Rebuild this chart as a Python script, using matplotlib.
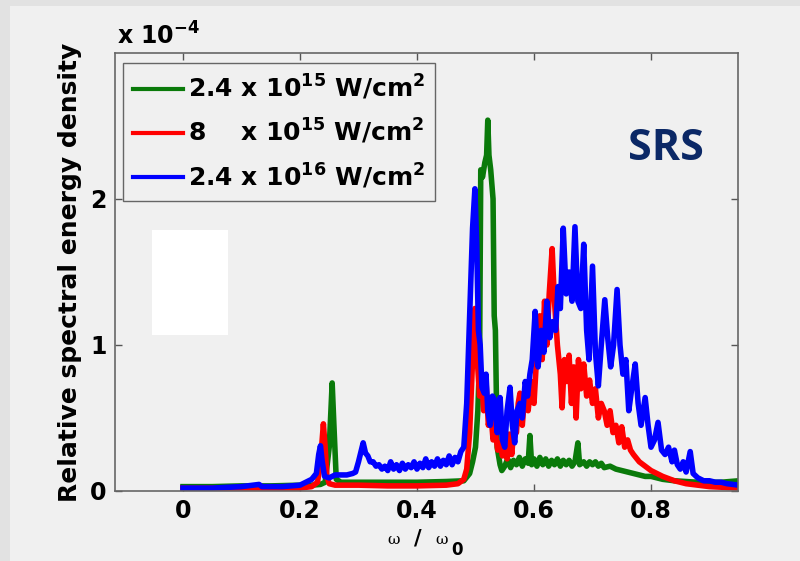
import numpy as np
import matplotlib
matplotlib.use("Agg")
import matplotlib.pyplot as plt
from matplotlib.patches import Rectangle

# spectral energy density, in units of 1e-4, vs omega/omega_0
green_x = [0.00, 0.05, 0.10, 0.15, 0.20, 0.22, 0.235, 0.243, 0.250, 0.255, 0.258, 0.262,
           0.27, 0.30, 0.35, 0.40, 0.45, 0.48, 0.49, 0.495, 0.500, 0.504, 0.507, 0.509,
           0.512, 0.516, 0.519, 0.521, 0.523, 0.526, 0.530, 0.532, 0.534, 0.537, 0.542,
           0.545, 0.550, 0.555, 0.560, 0.565, 0.570, 0.575, 0.580, 0.585, 0.590, 0.593,
           0.596, 0.600, 0.605, 0.610, 0.615, 0.620, 0.625, 0.630, 0.635, 0.640, 0.645,
           0.650, 0.655, 0.660, 0.665, 0.670, 0.675, 0.678, 0.685, 0.690, 0.695, 0.700,
           0.705, 0.710, 0.715, 0.720, 0.730, 0.740, 0.750, 0.760, 0.770, 0.780, 0.790,
           0.800, 0.820, 0.840, 0.860, 0.880, 0.900, 0.920, 0.950]
green_y = [0.03, 0.03, 0.035, 0.035, 0.04, 0.04, 0.045, 0.06, 0.30, 0.74, 0.45, 0.08,
           0.06, 0.06, 0.06, 0.06, 0.065, 0.07, 0.12, 0.2, 0.3, 0.55, 0.9, 2.2,
           2.15, 2.25, 2.3, 2.54, 2.3, 2.2, 2.0, 1.2, 1.1, 0.3, 0.18,
           0.14, 0.17, 0.22, 0.16, 0.21, 0.18, 0.23, 0.17, 0.22, 0.19, 0.38,
           0.18, 0.22, 0.17, 0.23, 0.18, 0.22, 0.17, 0.21, 0.18, 0.22, 0.17,
           0.21, 0.18, 0.21, 0.17, 0.20, 0.33, 0.18, 0.20, 0.17, 0.20, 0.18,
           0.20, 0.17, 0.19, 0.16, 0.17, 0.15, 0.14, 0.13, 0.12, 0.11, 0.10,
           0.10, 0.08, 0.07, 0.065, 0.06, 0.06, 0.06, 0.07]

red_x = [0.00, 0.10, 0.20, 0.22, 0.23, 0.235, 0.240, 0.243, 0.246, 0.250, 0.26, 0.30,
         0.35, 0.40, 0.45, 0.47, 0.48, 0.485, 0.490, 0.495, 0.499, 0.503, 0.507, 0.510,
         0.514, 0.518, 0.522, 0.526, 0.530, 0.534, 0.538, 0.542, 0.546, 0.550, 0.554,
         0.558, 0.562, 0.566, 0.570, 0.573, 0.576, 0.580, 0.585, 0.590, 0.595, 0.600,
         0.605, 0.610, 0.614, 0.618, 0.622, 0.626, 0.631, 0.635, 0.640, 0.645, 0.648,
         0.652, 0.656, 0.660, 0.664, 0.668, 0.672, 0.676, 0.680, 0.685, 0.690, 0.695,
         0.700, 0.705, 0.710, 0.715, 0.720, 0.725, 0.730, 0.735, 0.740, 0.745, 0.750,
         0.755, 0.760, 0.765, 0.770, 0.780, 0.790, 0.800, 0.810, 0.820, 0.840, 0.860,
         0.880, 0.900, 0.950]
red_y = [0.02, 0.02, 0.02, 0.03, 0.06, 0.2, 0.46, 0.3, 0.1, 0.05, 0.04, 0.04,
         0.035, 0.035, 0.04, 0.05, 0.08, 0.15, 0.4, 0.9, 1.25, 0.9, 0.65, 0.8,
         0.55, 0.75, 0.45, 0.55, 0.35, 0.4, 0.28, 0.33, 0.24, 0.3, 0.22,
         0.39, 0.25, 0.45, 0.4, 0.6, 0.67, 0.45, 0.7, 0.55, 0.75, 0.6,
         0.95, 1.2, 0.9, 1.3, 1.0, 1.35, 1.66, 1.3, 1.0, 0.8, 0.57,
         0.9, 0.75, 0.93, 0.6, 0.85, 0.5, 0.9, 0.7, 0.87, 0.65, 0.76,
         0.6, 0.7, 0.5, 0.6, 0.55, 0.45, 0.55, 0.4, 0.45, 0.33, 0.44,
         0.3, 0.35, 0.28, 0.25, 0.2, 0.17, 0.14, 0.12, 0.1, 0.07, 0.05,
         0.04, 0.03, 0.02]

blue_x = [0.00, 0.05, 0.10, 0.13, 0.135, 0.17, 0.20, 0.21, 0.22, 0.228, 0.232, 0.235,
          0.238, 0.242, 0.25, 0.26, 0.27, 0.28, 0.29, 0.295, 0.300, 0.305, 0.308, 0.312,
          0.316, 0.320, 0.325, 0.330, 0.335, 0.340, 0.345, 0.350, 0.355, 0.360, 0.365,
          0.370, 0.375, 0.380, 0.385, 0.390, 0.395, 0.400, 0.405, 0.410, 0.415, 0.420,
          0.425, 0.430, 0.435, 0.440, 0.445, 0.450, 0.455, 0.460, 0.465, 0.470, 0.475,
          0.480, 0.485, 0.490, 0.495, 0.499, 0.502, 0.505, 0.508, 0.511, 0.515, 0.518,
          0.521, 0.525, 0.529, 0.533, 0.537, 0.542, 0.546, 0.550, 0.554, 0.559, 0.563,
          0.567, 0.571, 0.576, 0.580, 0.585, 0.589, 0.593, 0.597, 0.602, 0.607, 0.612,
          0.617, 0.622, 0.627, 0.632, 0.637, 0.641, 0.645, 0.650, 0.655, 0.660, 0.665,
          0.670, 0.675, 0.680, 0.685, 0.690, 0.694, 0.700, 0.705, 0.710, 0.715, 0.721,
          0.726, 0.731, 0.736, 0.742, 0.747, 0.752, 0.757, 0.762, 0.767, 0.773, 0.778,
          0.783, 0.790, 0.795, 0.800, 0.806, 0.812, 0.818, 0.824, 0.830, 0.836, 0.840,
          0.845, 0.850, 0.855, 0.860, 0.867, 0.872, 0.880, 0.890, 0.900, 0.910, 0.920,
          0.930, 0.950]
blue_y = [0.02, 0.02, 0.03, 0.045, 0.03, 0.03, 0.04, 0.06, 0.08, 0.12, 0.25, 0.31,
          0.2, 0.1, 0.09, 0.11, 0.11, 0.11, 0.12, 0.13, 0.2, 0.28, 0.33, 0.26,
          0.24, 0.2, 0.2, 0.17, 0.18, 0.15, 0.17, 0.14, 0.2, 0.15, 0.18,
          0.14, 0.19, 0.15, 0.18, 0.16, 0.2, 0.15, 0.19, 0.16, 0.22, 0.16,
          0.2, 0.17, 0.22, 0.17, 0.21, 0.18, 0.24, 0.18, 0.23, 0.2, 0.27,
          0.3, 0.6, 1.2, 1.8, 2.07, 1.7, 1.1, 1.0, 0.71, 0.67, 0.8,
          0.55, 0.45, 0.65, 0.62, 0.4, 0.64, 0.35, 0.3, 0.55, 0.71, 0.45,
          0.33, 0.55, 0.6, 0.5, 0.75, 0.65, 0.8, 0.9, 1.23, 0.85, 1.1,
          0.95, 1.3, 1.05, 1.16, 1.1, 1.4, 1.25, 1.8, 1.35, 1.5, 1.3,
          1.81, 1.3, 1.25, 1.69, 1.1, 0.9, 1.54, 0.95, 0.72, 1.0, 1.31,
          1.05, 0.85, 1.0, 1.38, 1.0, 0.8, 0.9, 0.55, 0.7, 0.87, 0.6,
          0.45, 0.64, 0.45, 0.3, 0.35, 0.47, 0.28, 0.25, 0.3, 0.2, 0.28,
          0.18, 0.15, 0.2, 0.13, 0.27, 0.12, 0.09, 0.07, 0.07, 0.06, 0.06,
          0.05, 0.04]

labels = ["2.4 x 10$^{\\mathbf{15}}$ W/cm$^{\\mathbf{2}}$",
          "8    x 10$^{\\mathbf{15}}$ W/cm$^{\\mathbf{2}}$",
          "2.4 x 10$^{\\mathbf{16}}$ W/cm$^{\\mathbf{2}}$"]
colors = ["#0a7a0a", "#ff0000", "#0000ff"]

bg = "#f0f0f0"
plt.rcParams['font.family'] = ['DejaVu Sans']
plt.rcParams['font.weight'] = 'bold'

W, H = 800, 561
fig = plt.figure(figsize=(W / 100, H / 100), dpi=100, facecolor=bg)
ax = fig.add_axes([115 / W, 1 - 491 / H, 623 / W, 438 / H], facecolor=bg)

for xs, ys, c, lab in zip([green_x, red_x, blue_x], [green_y, red_y, blue_y], colors, labels):
    ax.plot(xs, ys, color=c, lw=4, label=lab, solid_joinstyle='round')

ax.set_xlim(-0.1162, 0.9487)
ax.set_ylim(0, 3.0)
ax.set_xticks([0, 0.2, 0.4, 0.6, 0.8])
ax.set_xticklabels(["0", "0.2", "0.4", "0.6", "0.8"])
ax.set_yticks([0, 1, 2])
ax.tick_params(direction='in', length=5, width=1, color='#555555', top=True, right=True,
               labelsize=17, pad=6)
for s in ax.spines.values():
    s.set_color('#666666')
    s.set_linewidth(1.2)
ax.set_ylabel("Relative spectral energy density", fontsize=18, fontweight='bold', labelpad=6)

leg = ax.legend(loc='upper left', bbox_to_anchor=(0.0128, 0.977), borderaxespad=0,
                fontsize=18, handlelength=2.0, handletextpad=0.2, labelspacing=0.6,
                borderpad=0.4, fancybox=False, framealpha=1, facecolor=bg,
                edgecolor='#666666')
for line in leg.get_lines():
    line.set_linewidth(3)

# scale factor of the y axis
fig.text(117 / W, 1 - 45 / H, "x 10$^{\\mathbf{-4}}$", fontsize=17, va='baseline', ha='left')

# x axis label, omega / omega_0
fig.text(394 / W, 1 - 540 / H, "ω", family='DejaVu Serif', fontweight='normal',
         fontsize=11, ha='center', va='center')
fig.text(418 / W, 1 - 539 / H, "/", fontsize=15, ha='center', va='center')
fig.text(442 / W, 1 - 540 / H, "ω", family='DejaVu Serif', fontweight='normal',
         fontsize=11, ha='center', va='center')
fig.text(457 / W, 1 - 550 / H, "0", fontsize=12, ha='center', va='center')

fig.text(666 / W, 1 - 148 / H, "SRS", family='Open Sans', fontweight='bold',
         fontsize=31, color='#0b2866', ha='center', va='center')

# frame strips and blank box
fig.add_artist(Rectangle((0, 1 - 6 / H), 1, 6 / H, transform=fig.transFigure,
                         facecolor='#e2e2e2', edgecolor='none'))
fig.add_artist(Rectangle((0, 0), 10 / W, 1, transform=fig.transFigure,
                         facecolor='#e2e2e2', edgecolor='none'))
fig.add_artist(Rectangle((152 / W, 1 - 335 / H), 76 / W, 105 / H, transform=fig.transFigure,
                         facecolor='white', edgecolor='none', zorder=5))

fig.savefig("out.png", dpi=100, facecolor=bg)
